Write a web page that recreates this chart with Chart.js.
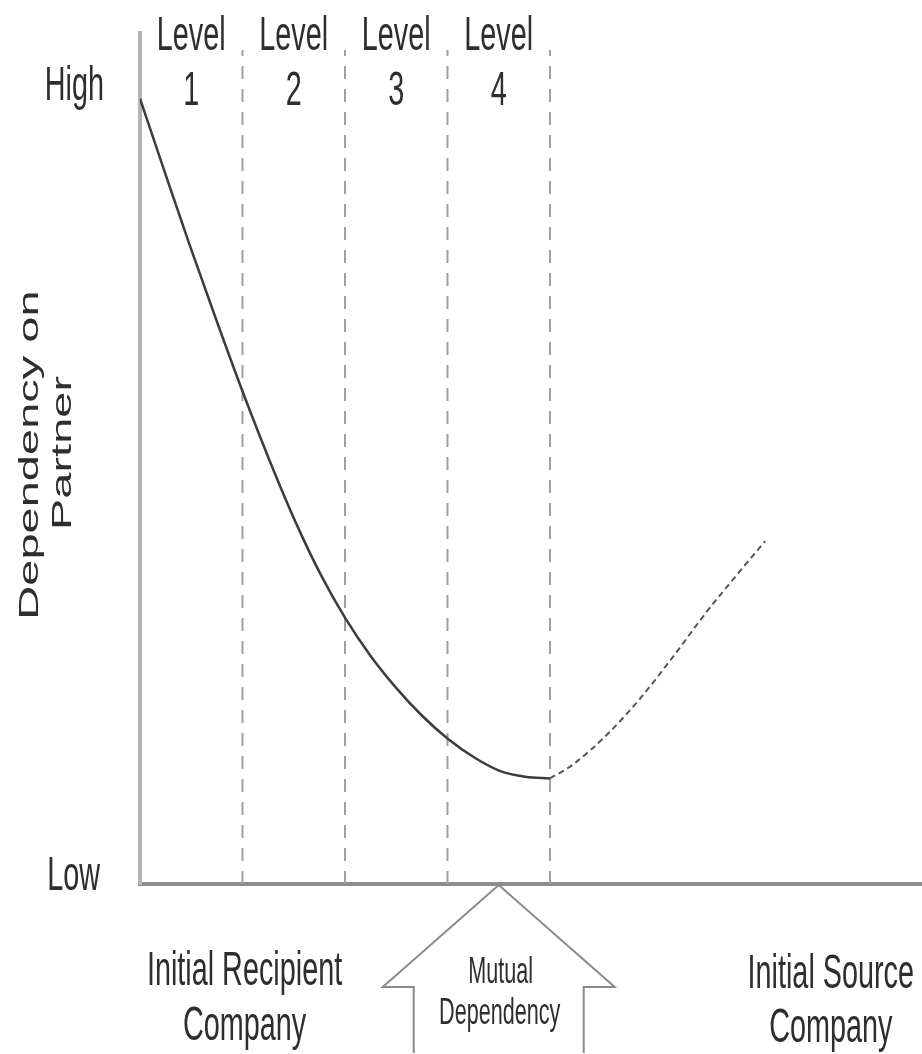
<html>
<head>
  <script src="https://cdn.jsdelivr.net/npm/chart.js"></script>
  <style>
    body { margin: 0; background: #fff; }
  </style>
</head>
<body>
<canvas id="myChart" width="922" height="1054"></canvas>

<script>
// curve (x in "level" units, y 0 = Low .. 100 = top of axis)
var curveX = [0, 0.24, 0.49, 0.75, 1.0, 1.27, 1.53, 1.77, 2.0, 2.25, 2.51, 2.75, 3.0, 3.27, 3.51, 3.76, 4.0]
var curveY = [92.3, 83.7, 74.9, 66.1, 57.9, 49.6, 42.2, 36.2, 31.3, 26.8, 22.9, 19.8, 17.1, 14.8, 13.3, 12.6, 12.4]
// rising part after the minimum (drawn lighter / broken in the original)
var riseX = [4.0, 4.22, 4.56, 4.88, 5.2, 5.53, 5.85, 6.1]
var riseY = [12.4, 14.0, 17.6, 21.8, 26.7, 32.0, 36.7, 40.3]

var levels = [1, 2, 3, 4]
var levelNames = ["1", "2", "3", "4"]
var levelTop = 98

var FONT = "'Liberation Sans', Arial, sans-serif"
var TEXT = "#2e2e2e"

const toPoints = (xs, ys) => xs.map((x, i) => ({x: x, y: ys[i]}))

// the scan is squeezed sideways, so all text is drawn narrowed
function squeezeText(ctx, text, x, y, size, align, base, rotate) {
  ctx.save()
  ctx.translate(x, y)
  ctx.scale(0.6, 1)
  if (rotate) ctx.rotate(-Math.PI / 2)
  ctx.font = size + "px " + FONT
  ctx.fillStyle = TEXT
  ctx.textAlign = align
  ctx.textBaseline = base
  ctx.fillText(text, 0, 0)
  ctx.restore()
}

const labelsPlugin = {
  id: 'labels',
  afterDraw(chart) {
    const ctx = chart.ctx
    const xs = chart.scales.x
    const ys = chart.scales.y
    // level headings
    levels.forEach((lv, i) => {
      const cx = xs.getPixelForValue(lv - 0.5)
      squeezeText(ctx, "Level", cx, 50, 48, 'center', 'alphabetic')
      squeezeText(ctx, levelNames[i], cx, 105, 48, 'center', 'alphabetic')
    })
    // y ends
    squeezeText(ctx, "High", 104, 100, 48, 'right', 'alphabetic')
    squeezeText(ctx, "Low", 100, 890, 48, 'right', 'alphabetic')
    // y title
    squeezeText(ctx, "Dependency on", 30, 455, 47, 'center', 'middle', true)
    squeezeText(ctx, "Partner", 63, 453, 47, 'center', 'middle', true)
    // bottom captions
    const left = xs.getPixelForValue(1.02)
    squeezeText(ctx, "Initial Recipient", left, 985, 48, 'center', 'alphabetic')
    squeezeText(ctx, "Company", left, 1040, 48, 'center', 'alphabetic')
    const right = xs.getPixelForValue(6.74)
    squeezeText(ctx, "Initial Source", right, 988, 48, 'center', 'alphabetic')
    squeezeText(ctx, "Company", right, 1042, 48, 'center', 'alphabetic')

    // mutual dependency arrow
    const tipX = xs.getPixelForValue(3.5)
    const tipY = ys.getPixelForValue(0) + 1
    ctx.save()
    ctx.strokeStyle = "#8a8a8a"
    ctx.lineWidth = 2
    ctx.beginPath()
    ctx.moveTo(tipX - 85, 1053)
    ctx.lineTo(tipX - 85, 987)
    ctx.lineTo(tipX - 116, 987)
    ctx.lineTo(tipX, tipY)
    ctx.lineTo(tipX + 116, 987)
    ctx.lineTo(tipX + 85, 987)
    ctx.lineTo(tipX + 85, 1053)
    ctx.stroke()
    ctx.restore()
    squeezeText(ctx, "Mutual", tipX + 2, 983, 36, 'center', 'alphabetic')
    squeezeText(ctx, "Dependency", tipX + 1, 1024, 36, 'center', 'alphabetic')
  }
}

const datasets = [
  {
    data: toPoints(curveX, curveY),
    borderColor: "#3c3c3c",
    borderWidth: 2.5,
    pointRadius: 0,
    fill: false,
    cubicInterpolationMode: 'monotone'
  },
  {
    data: toPoints(riseX, riseY),
    borderColor: "#555555",
    borderWidth: 2,
    borderDash: [6, 4],
    pointRadius: 0,
    fill: false,
    cubicInterpolationMode: 'monotone'
  }
]
levels.forEach(lv => {
  datasets.push({
    data: [{x: lv, y: 0}, {x: lv, y: levelTop}],
    borderColor: "#a0a0a0",
    borderWidth: 2,
    borderDash: [13, 10],
    pointRadius: 0,
    fill: false
  })
})

const ctx = document.getElementById('myChart')
const chart = new Chart(ctx, {
  type: 'line',
  data: { datasets: datasets },
  plugins: [labelsPlugin],
  options: {
    responsive: false,
    animation: false,
    layout: { padding: { left: 140, top: 33, right: 0, bottom: 170 } },
    plugins: { legend: { display: false }, tooltip: { enabled: false } },
    scales: {
      x: {
        type: 'linear', min: 0, max: 7.63,
        ticks: { display: false },
        grid: { display: false, drawTicks: false },
        border: { display: true, color: "#8c8c8c", width: 4 }
      },
      y: {
        min: 0, max: 100,
        ticks: { display: false },
        grid: { display: false, drawTicks: false },
        border: { display: true, color: "#b4b4b4", width: 4 }
      }
    }
  }
})
</script>
</body>
</html>
